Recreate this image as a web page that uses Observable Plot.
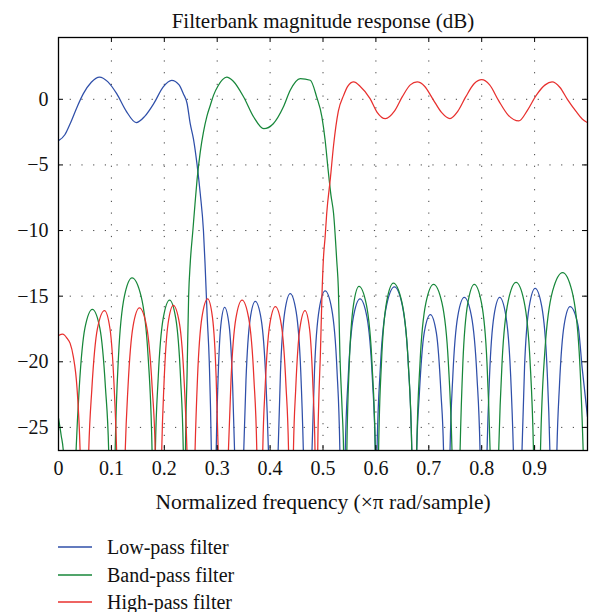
<!DOCTYPE html>
<html>
<head>
<meta charset="utf-8">
<script src="https://cdn.jsdelivr.net/npm/d3@7"></script>
<script src="https://cdn.jsdelivr.net/npm/@observablehq/plot@0.6"></script>
<style>
  html, body { margin: 0; padding: 0; background: #fff; }
  body { width: 590px; height: 612px; position: relative; font-family: "Liberation Serif", serif; overflow: hidden; }
  #chart { position: absolute; left: 0; top: 0; }
  #legend { position: absolute; left: 0; top: 520px; width: 590px; height: 92px; }
  .row { position: absolute; left: 0; width: 590px; height: 26px; }
  .row svg { position: absolute; left: 58px; top: 0; }
  .lab { position: absolute; left: 107px; top: 0; line-height: 26px; font-size: 20px; color: #111; white-space: nowrap; font-family: "Liberation Serif", serif; }
</style>
</head>
<body>
<div id="chart"></div>
<div id="legend"></div>
<script>
// ---- data (normalized frequency ×π, magnitude dB) ----
const titleText = "Filterbank magnitude response (dB)";
const xLabelText = "Normalized frequency (\u00d7\u03c0 rad/sample)";
const seriesNames = ["Low-pass filter", "Band-pass filter", "High-pass filter"];
const seriesColors = ["#2f4fa9", "#17873a", "#e8302e"];
const xTicks = [0, 0.1, 0.2, 0.3, 0.4, 0.5, 0.6, 0.7, 0.8, 0.9];
const xTickLabels = ["0", "0.1", "0.2", "0.3", "0.4", "0.5", "0.6", "0.7", "0.8", "0.9"];
const yTicks = [0, -5, -10, -15, -20, -25];
const yTickLabels = ["0", "\u22125", "\u221210", "\u221215", "\u221220", "\u221225"];
const xDomain = [0, 1];
const yDomain = [-26.76, 4.71];

const lowPass = [
  [0,-3.15],[0.012,-2.7],[0.022,-1.86],[0.035,-0.6],[0.047,0.43],[0.062,1.3],[0.0775,1.7],[0.093,1.35],[0.11,0.43],[0.128,-0.9],[0.147,-1.78],[0.163,-1.3],[0.18,-0.33],[0.198,0.95],[0.214,1.45],[0.228,1.1],[0.236,0.43],[0.243,-0.3],[0.249,-1.86],[0.255,-3.0],[0.262,-5.0],[0.268,-7.2],[0.274,-10.0],[0.277,-12.5],[0.281,-16.5],[0.285,-20],[0.289,-27],
  [0.2935,-45],
  [0.298,-27],[0.3012,-21.85],[0.3068,-17.25],[0.314,-15.85],[0.3226,-17.25],[0.3292,-21.85],[0.333,-27],[0.3415,-45],
  [0.35,-27],[0.3544,-21.4],[0.3621,-16.8],[0.372,-15.4],[0.3833,-16.8],[0.392,-21.4],[0.397,-27],[0.406,-45],
  [0.415,-27],[0.4196,-20.8],[0.4277,-16.2],[0.438,-14.8],[0.4493,-16.2],[0.458,-20.8],[0.463,-27],[0.471,-45],
  [0.479,-27],[0.484,-20.6],[0.4928,-16.0],[0.504,-14.6],[0.5166,-16.0],[0.5264,-20.6],[0.532,-27],[0.537,-45],
  [0.542,-27],[0.5476,-21.2],[0.5574,-16.6],[0.57,-15.2],[0.5831,-16.6],[0.5932,-21.2],[0.599,-27],[0.6005,-45],
  [0.602,-27],[0.6086,-20.3],[0.6202,-15.7],[0.635,-14.3],[0.6499,-15.7],[0.6614,-20.3],[0.668,-27],[0.6725,-45],
  [0.677,-27],[0.6822,-22.4],[0.6913,-17.8],[0.703,-16.4],[0.7143,-17.8],[0.723,-22.4],[0.728,-27],[0.734,-45],
  [0.74,-27],[0.7454,-21.1],[0.7549,-16.5],[0.767,-15.1],[0.7805,-16.5],[0.791,-21.1],[0.797,-27],[0.8035,-45],
  [0.81,-27],[0.8148,-21.1],[0.8232,-16.5],[0.834,-15.1],[0.8457,-16.5],[0.8548,-21.1],[0.86,-27],[0.868,-45],
  [0.876,-27],[0.881,-20.4],[0.8898,-15.8],[0.901,-14.4],[0.9136,-15.8],[0.9234,-20.4],[0.929,-27],[0.9355,-45],
  [0.942,-27],[0.947,-21.8],[0.9558,-17.2],[0.967,-15.8],[0.982,-17.2],[0.99,-20.5],[1.0,-24.2]
];

const bandPass = [
  [0,-24.3],[0.005,-25.6],[0.0095,-27],[0.021,-45],
  [0.033,-27],[0.0392,-22],[0.0501,-17.4],[0.064,-16],[0.078,-17.4],[0.0888,-22],[0.095,-27],[0.101,-45],
  [0.107,-27],[0.1134,-19.6],[0.1246,-15],[0.139,-13.6],[0.1561,-15],[0.1694,-19.6],[0.177,-27],[0.18,-45],
  [0.183,-27],[0.1884,-21.3],[0.1979,-16.7],[0.21,-15.3],[0.2217,-16.7],[0.2308,-21.3],[0.236,-27],[0.238,-45],
  [0.24,-27],[0.243,-21],[0.246,-15],[0.249,-12.5],[0.254,-10],[0.258,-8],[0.262,-6.1],[0.268,-4.0],[0.274,-2.5],[0.2805,-1.3],[0.287,-0.45],[0.293,0.3],[0.302,1.05],[0.31,1.5],[0.318,1.7],[0.33,1.4],[0.35,0.18],[0.369,-1.35],[0.388,-2.24],[0.406,-1.86],[0.425,-0.59],[0.438,0.69],[0.457,1.58],[0.476,1.45],[0.488,0.18],[0.498,-1.35],[0.504,-3.1],[0.51,-5.5],[0.515,-7.3],[0.52,-8.7],[0.526,-12.3],[0.529,-14.4],[0.532,-19.5],[0.536,-23.5],[0.539,-27],[0.542,-45],
  [0.545,-27],[0.5496,-20.25],[0.5577,-15.65],[0.568,-14.25],[0.582,-15.65],[0.5928,-20.25],[0.599,-27],[0.602,-45],
  [0.605,-27],[0.6106,-20],[0.6204,-15.4],[0.633,-14],[0.6488,-15.4],[0.661,-20],[0.668,-27],[0.6725,-45],
  [0.677,-27],[0.6834,-20.1],[0.6946,-15.5],[0.709,-14.1],[0.7248,-15.5],[0.737,-20.1],[0.744,-27],[0.7515,-45],
  [0.759,-27],[0.7644,-20.1],[0.7739,-15.5],[0.786,-14.1],[0.7995,-15.5],[0.81,-20.1],[0.816,-27],[0.824,-45],
  [0.832,-27],[0.8386,-19.95],[0.8502,-15.35],[0.865,-13.95],[0.8799,-15.35],[0.8914,-19.95],[0.898,-27],[0.9045,-45],
  [0.911,-27],[0.9194,-19.2],[0.9341,-14.6],[0.953,-13.2],[0.9706,-14.6],[0.9842,-19.2],[0.992,-27],[1.0,-40]
];

const highPass = [
  [0,-18],[0.008,-17.9],[0.016,-18.2],[0.022,-18.6],[0.028,-19.6],[0.035,-22],[0.041,-27],[0.049,-45],
  [0.057,-27],[0.063,-22.1],[0.0735,-17.5],[0.087,-16.1],[0.0974,-17.5],[0.1054,-22.1],[0.11,-27],[0.118,-45],
  [0.126,-27],[0.1314,-21.9],[0.1409,-17.3],[0.153,-15.9],[0.1665,-17.3],[0.177,-21.9],[0.183,-27],[0.189,-45],
  [0.195,-27],[0.1994,-21.7],[0.2071,-17.1],[0.217,-15.7],[0.2287,-17.1],[0.2378,-21.7],[0.243,-27],[0.2505,-45],
  [0.258,-27],[0.2628,-21.2],[0.2712,-16.6],[0.282,-15.2],[0.291,-16.6],[0.298,-21.2],[0.302,-27],[0.3115,-45],
  [0.321,-27],[0.3262,-21.3],[0.3353,-16.7],[0.347,-15.3],[0.3596,-16.7],[0.3694,-21.3],[0.375,-27],[0.3805,-45],
  [0.386,-27],[0.3908,-21.8],[0.3992,-17.2],[0.41,-15.8],[0.4213,-17.2],[0.43,-21.8],[0.435,-27],[0.4395,-45],
  [0.444,-27],[0.4484,-22.1],[0.4561,-17.5],[0.466,-16.1],[0.4746,-17.5],[0.4812,-22.1],[0.485,-27],[0.4875,-45],
  [0.49,-27],[0.492,-23],[0.495,-19.5],[0.498,-15],[0.501,-12],[0.504,-10.5],[0.507,-8.7],[0.514,-6],[0.52,-3.5],[0.529,-0.9],[0.539,0.3],[0.547,1.0],[0.558,1.32],[0.57,1.0],[0.589,0.05],[0.602,-0.97],[0.618,-1.47],[0.635,-0.9],[0.65,0.2],[0.665,1.1],[0.678,1.32],[0.692,1.0],[0.708,0.0],[0.724,-1.0],[0.74,-1.47],[0.755,-0.9],[0.77,0.2],[0.786,1.2],[0.8,1.5],[0.815,1.1],[0.832,-0.1],[0.85,-1.2],[0.87,-1.65],[0.887,-0.8],[0.903,0.3],[0.92,1.1],[0.933,1.32],[0.948,0.9],[0.962,0.0],[0.978,-0.9],[0.99,-1.5],[1.0,-1.78]
];

// ---- layout ----
const W = 590, H = 520;
const mTop = 37, mLeft = 58, mRight = 3, mBottom = 70;
const frameW = W - mLeft - mRight, frameH = H - mTop - mBottom;
const tickLen = 5;
const font = "'Liberation Serif', 'Times New Roman', serif";

const seriesData = [lowPass, bandPass, highPass];
const gridX = xTicks.filter(d => d > 0);

const chart = Plot.plot({
  width: W,
  height: H,
  marginTop: mTop,
  marginLeft: mLeft,
  marginRight: mRight,
  marginBottom: mBottom,
  style: { fontFamily: font, fontSize: "20px", color: "#111", background: "#fff", overflow: "visible" },
  x: { domain: xDomain, ticks: xTicks, tickFormat: d => xTickLabels[xTicks.indexOf(d)], tickSize: 0, tickPadding: 10, label: null },
  y: { domain: yDomain, ticks: yTicks, tickFormat: d => yTickLabels[yTicks.indexOf(d)], tickSize: 0, tickPadding: 10, label: null },
  marks: [
    Plot.ruleX(gridX, { stroke: "#222", strokeWidth: 1, strokeDasharray: "1.2,10.5", strokeOpacity: 0.85 }),
    Plot.ruleY(yTicks, { stroke: "#222", strokeWidth: 1, strokeDasharray: "1.2,10.5", strokeOpacity: 0.85 }),
    ...seriesData.map((pts, i) => Plot.line(pts, {
      x: d => d[0], y: d => d[1], stroke: seriesColors[i], strokeWidth: 1.25,
      curve: "monotone-x", clip: true
    })),
    // inward tick marks (bottom, top, left, right)
    Plot.tickX(gridX, { x: d => d, insetTop: frameH - tickLen, stroke: "#000" }),
    Plot.tickX(gridX, { x: d => d, insetBottom: frameH - tickLen, stroke: "#000" }),
    Plot.tickY(yTicks, { y: d => d, insetRight: frameW - tickLen, stroke: "#000" }),
    Plot.tickY(yTicks, { y: d => d, insetLeft: frameW - tickLen, stroke: "#000" }),
    Plot.frame({ stroke: "#000", strokeWidth: 1.3 }),
    Plot.text([titleText], { frameAnchor: "top", lineAnchor: "middle", dy: -16, fontSize: 21, fill: "#111" }),
    Plot.text([xLabelText], { frameAnchor: "bottom", lineAnchor: "middle", dy: 52, fontSize: 21.5, fill: "#111" })
  ]
});
document.getElementById("chart").appendChild(chart);

// ---- legend ----
const legend = document.getElementById("legend");
const rowCenters = [27, 55, 82];
const ns = "http://www.w3.org/2000/svg";
seriesNames.forEach((name, i) => {
  const row = document.createElement("div");
  row.className = "row";
  row.style.top = (rowCenters[i] - 13) + "px";
  const sw = document.createElementNS(ns, "svg");
  sw.setAttribute("width", "36");
  sw.setAttribute("height", "26");
  const ln = document.createElementNS(ns, "line");
  ln.setAttribute("x1", "0"); ln.setAttribute("x2", "34");
  ln.setAttribute("y1", "13"); ln.setAttribute("y2", "13");
  ln.setAttribute("stroke", seriesColors[i]);
  ln.setAttribute("stroke-width", "1.4");
  sw.appendChild(ln);
  const lab = document.createElement("div");
  lab.className = "lab";
  lab.textContent = name;
  row.appendChild(sw);
  row.appendChild(lab);
  legend.appendChild(row);
});
</script>
</body>
</html>
